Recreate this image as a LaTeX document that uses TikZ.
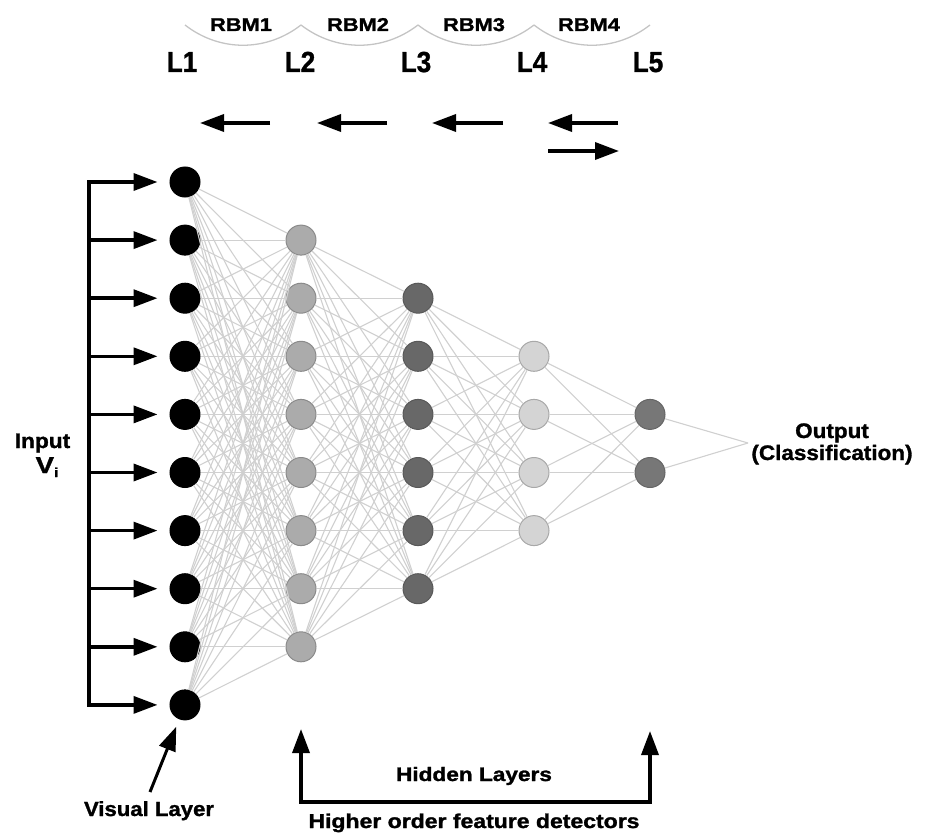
\documentclass[tikz,border=0pt]{standalone}
\usepackage{fontspec}
\usepackage{graphicx}
\setmainfont{Liberation Sans}
\newfontfamily\heavyfont[FakeBold=1.3]{Liberation Sans}
\usetikzlibrary{arrows.meta}
\newcommand\mytxt[3]{{\fontsize{#1}{#1}\selectfont\heavyfont\bfseries\scalebox{#2}[1]{#3}}}
\definecolor{edgec}{HTML}{D0D0D0}
\definecolor{arcc}{HTML}{C4C4C4}
\definecolor{ctwo}{HTML}{ABABAB}
\definecolor{ctwob}{HTML}{8A8A8A}
\definecolor{cthree}{HTML}{686868}
\definecolor{cthreeb}{HTML}{585858}
\definecolor{cfour}{HTML}{D4D4D4}
\definecolor{cfourb}{HTML}{A8A8A8}
\definecolor{cfive}{HTML}{777777}
\definecolor{cfiveb}{HTML}{666666}
\begin{document}
\begin{tikzpicture}[x=1pt,y=-1pt,
  neuron/.style={circle,minimum size=30pt,inner sep=0pt,line width=1pt},
  lone/.style={neuron,fill=black,draw=black},
  ltwo/.style={neuron,fill=ctwo,draw=ctwob},
  lthree/.style={neuron,fill=cthree,draw=cthreeb},
  lfour/.style={neuron,fill=cfour,draw=cfourb},
  lfive/.style={neuron,fill=cfive,draw=cfiveb},
  edge/.style={draw=edgec,line width=1.1pt},
  rbmarc/.style={draw=arcc,line width=1.3pt},
  bigarrow/.style={line width=3.5pt,-{Triangle[length=24pt,width=17pt]}},
  plainline/.style={line width=3.5pt},
  lbl/.style={anchor=base,inner sep=0pt,outer sep=0pt}
]
\useasboundingbox (0,0) rectangle (931,840);

% neurons (row index k, y = 182 + (k-1)*58.1)
\foreach \k in {1,...,10} \node[lone] (a\k) at (185,{182+(\k-1)*58.1}) {};
\foreach \k in {2,...,9} \node[ltwo] (b\k) at (301,{182+(\k-1)*58.1}) {};
\foreach \k in {3,...,8} \node[lthree] (c\k) at (418,{182+(\k-1)*58.1}) {};
\foreach \k in {4,...,7} \node[lfour] (d\k) at (534,{182+(\k-1)*58.1}) {};
\foreach \k in {5,6} \node[lfive] (e\k) at (650,{182+(\k-1)*58.1}) {};
\coordinate (out) at (748,443);

% connections
\foreach \i in {1,...,10} \foreach \j in {2,...,9} \draw[edge] (a\i) -- (b\j);
\foreach \i in {2,...,9} \foreach \j in {3,...,8} \draw[edge] (b\i) -- (c\j);
\foreach \i in {3,...,8} \foreach \j in {4,...,7} \draw[edge] (c\i) -- (d\j);
\foreach \i in {4,...,7} \foreach \j in {5,6} \draw[edge] (d\i) -- (e\j);
\foreach \i in {5,6} \draw[edge] (e\i) -- (out);

% input bus
\coordinate (bt) at (89,182);
\coordinate (bb) at (89,{182+9*58.1});
\draw[plainline,line cap=rect] (bt) -- (bb);
\foreach \k in {1,...,10} {
  \coordinate (p\k) at (89,{182+(\k-1)*58.1});
  \draw[bigarrow,shorten >=12pt] (p\k) -- (a\k);
}

% RBM arcs
\foreach \xa/\xb in {185/301,301/418,418/534,534/650}
  \draw[rbmarc] (\xa,25) .. controls ({\xa+0.3*(\xb-\xa)},52) and ({\xa+0.7*(\xb-\xa)},52) .. (\xb,25);

% RBM labels
\node[lbl] (rbm1) at (241,31) {\mytxt{18.5}{1.18}{RBM1}};
\node[lbl] (rbm2) at (358,31) {\mytxt{18.5}{1.18}{RBM2}};
\node[lbl] (rbm3) at (474,31) {\mytxt{18.5}{1.18}{RBM3}};
\node[lbl] (rbm4) at (589,31) {\mytxt{18.5}{1.18}{RBM4}};

% layer labels
\node[lbl] (l1) at (182,72) {\mytxt{29}{0.9}{L1}};
\node[lbl] (l2) at (300,72) {\mytxt{29}{0.9}{L2}};
\node[lbl] (l3) at (416,72) {\mytxt{29}{0.9}{L3}};
\node[lbl] (l4) at (532,72) {\mytxt{29}{0.9}{L4}};
\node[lbl] (l5) at (648,72) {\mytxt{29}{0.9}{L5}};

% direction arrows
\coordinate (t1s) at (270,123); \coordinate (t1e) at (200,123);
\coordinate (t2s) at (387,123); \coordinate (t2e) at (317,123);
\coordinate (t3s) at (503,123); \coordinate (t3e) at (432,123);
\coordinate (t4s) at (618,123); \coordinate (t4e) at (548,123);
\coordinate (t5s) at (548,151); \coordinate (t5e) at (619,151);
\foreach \n in {1,...,5} \draw[bigarrow] (t\n s) -- (t\n e);

% input label
\node[lbl] (inp) at (42.5,448) {\mytxt{21}{1.08}{Input}};
\node[lbl] (vi) at (47,473) {\mytxt{23}{1.2}{V\raisebox{-4pt}{\fontsize{13}{13}\selectfont i}}};

% output label
\node[lbl] (outa) at (832,438) {\mytxt{21}{1.07}{Output}};
\node[lbl] (outb) at (832,460) {\mytxt{21}{1.07}{(Classification)}};

% visual layer
\coordinate (vl) at (150,792);
\draw[bigarrow,line width=3pt,shorten >=8pt] (vl) -- (a10);
\node[lbl] (vis) at (149,816) {\mytxt{20.5}{1.08}{Visual Layer}};

% hidden layers bracket
\coordinate (hl) at (301,802);
\coordinate (hr) at (650,802);
\coordinate (hlt) at (301,729);
\coordinate (hrt) at (650,731);
\draw[plainline,line cap=rect] (hl) -- (hr);
\draw[bigarrow] (hl) -- (hlt);
\draw[bigarrow] (hr) -- (hrt);
\node[lbl] (hid) at (474,781) {\mytxt{19.5}{1.16}{Hidden Layers}};
\node[lbl] (hof) at (474,828) {\mytxt{20}{1.15}{Higher order feature detectors}};
\end{tikzpicture}
\end{document}
